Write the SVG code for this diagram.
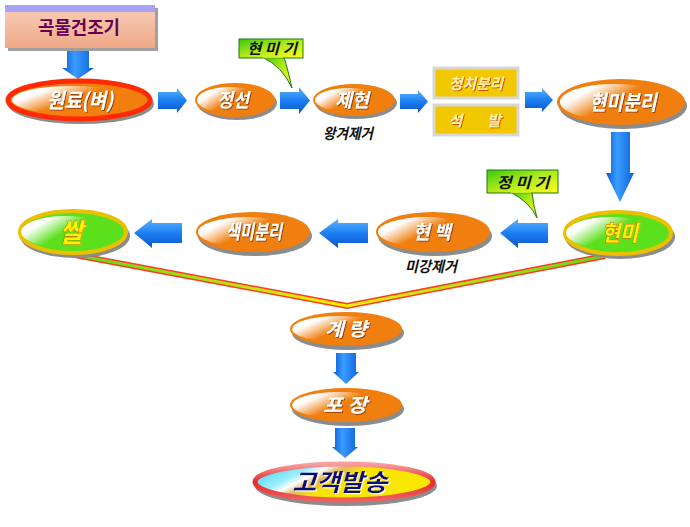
<svg xmlns="http://www.w3.org/2000/svg" width="690" height="527" viewBox="0 0 690 527">
<defs>
  <linearGradient id="blueV" x1="0" y1="0" x2="0" y2="1">
    <stop offset="0" stop-color="#5ab4ff"/>
    <stop offset="0.5" stop-color="#1c7ef2"/>
    <stop offset="1" stop-color="#0a56cc"/>
  </linearGradient>
  <linearGradient id="blueH" x1="0" y1="0" x2="1" y2="0">
    <stop offset="0" stop-color="#0a5ad0"/>
    <stop offset="0.4" stop-color="#3a9cff"/>
    <stop offset="1" stop-color="#0e62d8"/>
  </linearGradient>
  <linearGradient id="hiLite" x1="0" y1="0.2" x2="1" y2="0.8">
    <stop offset="0" stop-color="#ffffff"/>
    <stop offset="0.18" stop-color="#ffffff"/>
    <stop offset="0.5" stop-color="#ffffff" stop-opacity="0"/>
  </linearGradient>
  <linearGradient id="peach" x1="0" y1="0" x2="0" y2="1">
    <stop offset="0" stop-color="#f8d0b8"/>
    <stop offset="1" stop-color="#f0a888"/>
  </linearGradient>
  <linearGradient id="callout" x1="0" y1="0" x2="1" y2="1">
    <stop offset="0" stop-color="#38c810"/>
    <stop offset="0.45" stop-color="#a8e818"/>
    <stop offset="1" stop-color="#ffff20"/>
  </linearGradient>
  <linearGradient id="ribbon" gradientUnits="userSpaceOnUse" x1="75" y1="0" x2="605" y2="0">
    <stop offset="0" stop-color="#5cd820"/>
    <stop offset="0.4" stop-color="#d8e810"/>
    <stop offset="0.5" stop-color="#f4f000"/>
    <stop offset="0.6" stop-color="#d8e810"/>
    <stop offset="1" stop-color="#5cd820"/>
  </linearGradient>
  <linearGradient id="sendFill" x1="0" y1="0" x2="1" y2="0.4">
    <stop offset="0" stop-color="#28d0ec"/>
    <stop offset="0.3" stop-color="#9ceefc"/>
    <stop offset="0.38" stop-color="#ffffff"/>
    <stop offset="0.46" stop-color="#e0b860"/>
    <stop offset="0.58" stop-color="#f8e400"/>
    <stop offset="1" stop-color="#f8e800"/>
  </linearGradient>
  <linearGradient id="sendRim" x1="0" y1="0" x2="0" y2="1">
    <stop offset="0" stop-color="#f8a0a0"/>
    <stop offset="0.5" stop-color="#e82828"/>
    <stop offset="1" stop-color="#f06060"/>
  </linearGradient>
  <filter id="tsh" x="-20%" y="-20%" width="140%" height="140%">
    <feDropShadow dx="1" dy="1" stdDeviation="0.4" flood-color="#7a3000" flood-opacity="0.8"/>
  </filter>
  <filter id="tshY" x="-20%" y="-20%" width="140%" height="140%">
    <feDropShadow dx="1" dy="1" stdDeviation="0.3" flood-color="#d84000" flood-opacity="0.9"/>
  </filter>
  <filter id="tshN" x="-20%" y="-20%" width="140%" height="140%">
    <feDropShadow dx="1.2" dy="1.2" stdDeviation="0.3" flood-color="#ffffff" flood-opacity="0.9"/>
  </filter>
</defs>
<style>
  text { font-family: "Noto Sans CJK KR", "Noto Sans", sans-serif; font-weight: bold; text-anchor: middle; }
  .wt { fill: #ffffff; font-style: italic; filter: url(#tsh); }
  .lab { fill: #111111; font-style: italic; font-size: 15px; }
  .cal { fill: #111111; font-style: italic; font-size: 15px; }
  .yt { fill: #fff0b0; font-style: italic; font-size: 15px; filter: url(#tshY); }
  .gt { fill: #fff000; stroke: #e05010; stroke-width: 0.8px; paint-order: stroke; }
  .sh { fill: #8c8c8c; }
  .or { fill: #f07f10; }
  .hl { fill: url(#hiLite); }
  .gr { fill: #5ce01c; stroke: #eac000; stroke-width: 4; }
  .arr { fill: url(#blueV); }
  .arrD { fill: url(#blueH); }
  .ybox { fill: #f2c800; stroke: #d8d8d8; stroke-width: 3; }
</style>
<rect width="690" height="527" fill="#ffffff"/>

<g id="connectors">
  <path d="M75,255 L347,306 L605,256" fill="none" stroke="#ff3c20" stroke-width="6" stroke-linejoin="miter"/>
  <path d="M75,255 L347,306 L605,256" fill="none" stroke="url(#ribbon)" stroke-width="3"/>
  <path class="arrD" d="M67,50 H89 V68 H94 L78,79 L62,68 H67 Z"/>
  <path class="arr" d="M158,92 H177 V88 L187,100.5 L177,113 V109 H158 Z"/>
  <path class="arr" d="M280,92 H299 V87 L310,100.5 L299,114 V109 H280 Z"/>
  <path class="arr" d="M400,94 H418 V90 L428,101.5 L418,113 V109 H400 Z"/>
  <path class="arr" d="M525,92 H542 V88 L553,100 L542,112 V108 H525 Z"/>
  <path class="arrD" d="M611,132 H630 V173 H634 L620,202 L606,173 H611 Z"/>
  <path class="arr" d="M548,223 H518 V219 L500,233 L518,248 V243 H548 Z"/>
  <path class="arr" d="M368,223 H338 V219 L319,233 L338,248 V243 H368 Z"/>
  <path class="arr" d="M182,223 H152 V219 L134,233 L152,248 V243 H182 Z"/>
  <path class="arrD" d="M336,353 H356 V372 H359 L346,384 L333,372 H336 Z"/>
  <path class="arrD" d="M335,428 H355 V447 H358 L345,458 L332,447 H335 Z"/>
</g>

<g id="dryer">
  <rect x="8" y="8" width="150" height="43" fill="#a0a0a0"/>
  <rect x="5" y="5" width="150" height="43" fill="url(#peach)"/>
  <rect x="5" y="5" width="150" height="7" fill="#a8a2f2"/>
  <text x="79" y="34" font-size="18" fill="#660050" textLength="82" lengthAdjust="spacingAndGlyphs">곡물건조기</text>
</g>

<g id="raw">
  <ellipse cx="81" cy="104" rx="73" ry="20" class="sh"/>
  <ellipse cx="79" cy="100" rx="71" ry="19" class="or" stroke="#ff2a00" stroke-width="5"/>
  <ellipse cx="72" cy="100" rx="60" ry="14" class="hl"/>
  <text x="80" y="108" font-size="21" class="wt" textLength="66" lengthAdjust="spacingAndGlyphs">원료(벼)</text>
</g>

<g id="sort">
  <ellipse cx="237" cy="103" rx="40" ry="17" class="sh"/>
  <ellipse cx="235" cy="100" rx="40" ry="17" class="or"/>
  <ellipse cx="230" cy="100" rx="33" ry="13" class="hl"/>
  <text x="233" y="107" font-size="19" class="wt" textLength="32" lengthAdjust="spacingAndGlyphs">정선</text>
</g>

<g id="callout-huller">
  <path d="M262,57 Q282,66 292,88 Q288,70 284,57 Z" fill="url(#callout)" stroke="#1e7a10" stroke-width="1"/>
  <rect x="239" y="39" width="64" height="19" fill="url(#callout)" stroke="#1e7a10" stroke-width="1"/>
  <path d="M263,57.5 H283" stroke="#c8ec18" stroke-width="1.5"/>
  <text x="272" y="54" class="cal" textLength="50" lengthAdjust="spacingAndGlyphs">현 미 기</text>
</g>

<g id="hull">
  <ellipse cx="356" cy="103" rx="41" ry="16" class="sh"/>
  <ellipse cx="354" cy="100" rx="41" ry="16" class="or"/>
  <ellipse cx="349" cy="100" rx="34" ry="12" class="hl"/>
  <text x="352" y="107" font-size="19" class="wt" textLength="34" lengthAdjust="spacingAndGlyphs">제현</text>
</g>
<g id="label-husk">
  <text x="348" y="139" class="lab" textLength="50" lengthAdjust="spacingAndGlyphs">왕겨제거</text>
</g>

<g id="green-sep">
  <rect x="434" y="68" width="84" height="30" class="ybox"/>
  <text x="476" y="89" class="yt" textLength="54" lengthAdjust="spacingAndGlyphs">청치분리</text>
</g>
<g id="destone">
  <rect x="434" y="105" width="84" height="30" class="ybox"/>
  <text class="yt" y="126"><tspan x="457">석</tspan> <tspan x="494">발</tspan></text>
</g>

<g id="brown-sep">
  <ellipse cx="623" cy="106" rx="64" ry="23" class="sh"/>
  <ellipse cx="621" cy="102" rx="64" ry="23" class="or"/>
  <ellipse cx="614" cy="102" rx="54" ry="18" class="hl"/>
  <text x="623" y="110" font-size="21" class="wt" textLength="67" lengthAdjust="spacingAndGlyphs">현미분리</text>
</g>

<g id="brown-rice">
  <ellipse cx="620" cy="237" rx="55" ry="22" class="sh"/>
  <ellipse cx="618" cy="233" rx="53" ry="21" class="gr"/>
  <ellipse cx="610" cy="233" rx="44" ry="16" class="hl"/>
  <text x="620" y="241" font-size="22" font-style="italic" class="gt" textLength="36" lengthAdjust="spacingAndGlyphs">현미</text>
</g>

<g id="callout-polisher">
  <path d="M510,192 Q530,202 537,218 Q533,204 532,192 Z" fill="url(#callout)" stroke="#1e7a10" stroke-width="1"/>
  <rect x="487" y="170" width="71" height="23" fill="url(#callout)" stroke="#1e7a10" stroke-width="1"/>
  <path d="M511,192.5 H531" stroke="#c8ec18" stroke-width="1.5"/>
  <text x="523" y="188" class="cal" textLength="53" lengthAdjust="spacingAndGlyphs">정 미 기</text>
</g>

<g id="white-rice">
  <ellipse cx="435" cy="236" rx="57" ry="20" class="sh"/>
  <ellipse cx="433" cy="232" rx="57" ry="20" class="or"/>
  <ellipse cx="426" cy="232" rx="48" ry="15" class="hl"/>
  <text x="432" y="239" font-size="19" class="wt" textLength="38" lengthAdjust="spacingAndGlyphs">현 백</text>
</g>
<g id="label-bran">
  <text x="431" y="272" class="lab" textLength="52" lengthAdjust="spacingAndGlyphs">미강제거</text>
</g>

<g id="color-sort">
  <ellipse cx="255" cy="236" rx="57" ry="20" class="sh"/>
  <ellipse cx="253" cy="232" rx="57" ry="20" class="or"/>
  <ellipse cx="246" cy="232" rx="48" ry="15" class="hl"/>
  <text x="254" y="239" font-size="20" class="wt" textLength="56" lengthAdjust="spacingAndGlyphs">색미분리</text>
</g>

<g id="rice">
  <ellipse cx="75" cy="236" rx="55" ry="22" class="sh"/>
  <ellipse cx="73" cy="232" rx="53" ry="21" class="gr"/>
  <ellipse cx="65" cy="232" rx="44" ry="16" class="hl"/>
  <text x="71" y="242" font-size="26" font-style="italic" class="gt" textLength="23" lengthAdjust="spacingAndGlyphs">쌀</text>
</g>

<g id="weigh">
  <ellipse cx="348" cy="333" rx="56" ry="17" class="sh"/>
  <ellipse cx="346" cy="329" rx="56" ry="17" class="or"/>
  <ellipse cx="339" cy="329" rx="47" ry="13" class="hl"/>
  <text x="346" y="336" font-size="19" class="wt" textLength="42" lengthAdjust="spacingAndGlyphs">계 량</text>
</g>

<g id="pack">
  <ellipse cx="348" cy="409" rx="56" ry="17" class="sh"/>
  <ellipse cx="346" cy="405" rx="56" ry="17" class="or"/>
  <ellipse cx="339" cy="405" rx="47" ry="13" class="hl"/>
  <text x="345" y="412" font-size="19" class="wt" textLength="44" lengthAdjust="spacingAndGlyphs">포 장</text>
</g>

<g id="ship">
  <ellipse cx="346" cy="486" rx="91" ry="20" class="sh"/>
  <ellipse cx="344" cy="482" rx="89" ry="18" fill="url(#sendFill)" stroke="url(#sendRim)" stroke-width="5"/>
  <text x="340" y="491" font-size="24" fill="#10107a" font-style="italic" filter="url(#tshN)" textLength="95" lengthAdjust="spacingAndGlyphs">고객발송</text>
</g>
</svg>
